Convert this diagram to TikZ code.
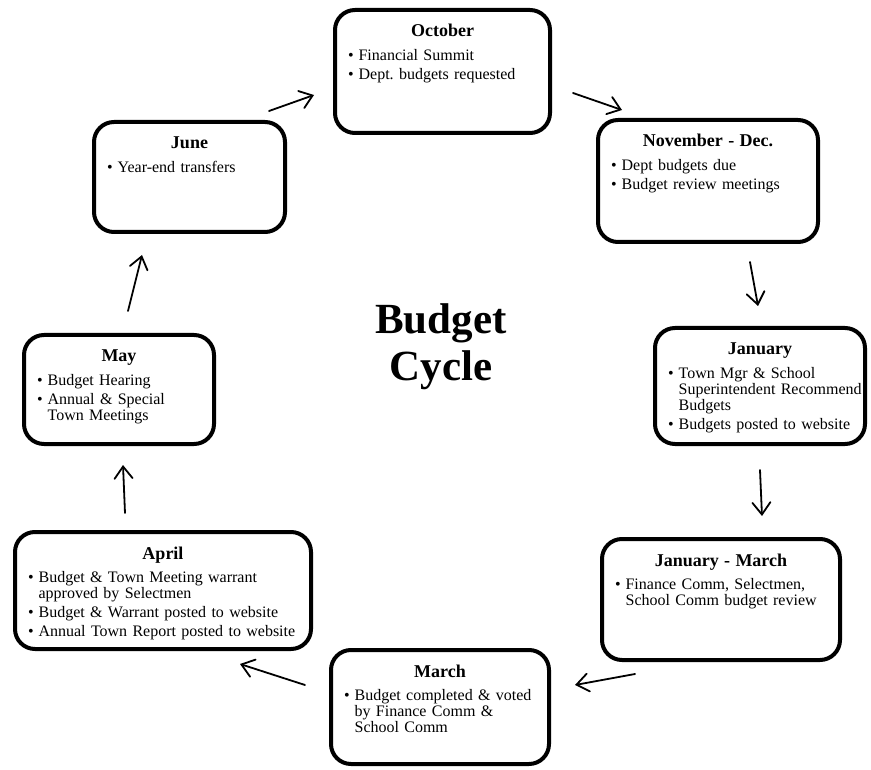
\documentclass[tikz,border=0pt]{standalone}
\usepackage{fontspec}
\setmainfont{Liberation Serif}
\usepackage{tikz}
\usetikzlibrary{arrows.meta}
\frenchspacing
\newcommand{\monthname}[1]{\makebox[\linewidth]{\fontsize{18}{20}\selectfont\bfseries #1}\\[7.5pt]}
\newenvironment{itemrows}{\begin{tabular}[t]{@{}l@{\hspace{5pt}}l@{}}}{\end{tabular}}
\tikzset{
  stage/.style={draw,line width=4pt,rounded corners=20pt,align=left,
    inner xsep=13pt,inner ysep=9pt,text height=18pt,
    font=\fontsize{16}{16}\selectfont},
  flows/.style={
    every edge/.style={draw,line width=1.8pt,line cap=round,
      -{Straight Barb[length=12pt,width=18pt,line cap=round]}}
  },
  heading/.style={align=center,font=\fontsize{43}{47}\selectfont\bfseries}
}
\begin{document}
\begin{tikzpicture}[x=1pt,y=1pt]
  \useasboundingbox (0,0) rectangle (871,-770);

  \node[heading] (title) at (441,-347) {Budget\\Cycle};

  \node[stage,text width=189pt,text depth=87pt] (oct) at (442.5,-71.5) {\monthname{October}
    \begin{itemrows}\textbullet & Financial Summit\\[3pt] \textbullet & Dept. budgets requested\end{itemrows}};
  \node[stage,text width=194pt,text depth=86pt] (nov) at (708,-181) {\monthname{November - Dec.}
    \begin{itemrows}\textbullet & Dept budgets due\\[3pt] \textbullet & Budget review meetings\end{itemrows}};
  \node[stage,text width=184pt,text depth=80pt] (jan) at (760,-386) {\monthname{January}
    \begin{itemrows}\textbullet & Town Mgr \& School\\ & Superintendent Recommend\\ & Budgets\\[3pt]
      \textbullet & Budgets posted to website\end{itemrows}};
  \node[stage,text width=212pt,text depth=85pt] (janmar) at (721,-599.5) {\monthname{January - March}
    \begin{itemrows}\textbullet & Finance Comm, Selectmen,\\ & School Comm budget review\end{itemrows}};
  \node[stage,text width=192pt,text depth=78pt] (mar) at (440,-707) {\monthname{March}
    \begin{itemrows}\textbullet & Budget completed \& voted\\ & by Finance Comm \&\\ & School Comm\end{itemrows}};
  \node[stage,text width=270pt,text depth=81pt] (apr) at (163,-590.5) {\monthname{April}
    \begin{itemrows}\textbullet & Budget \& Town Meeting warrant\\ & approved by Selectmen\\[3pt]
      \textbullet & Budget \& Warrant posted to website\\[3pt]
      \textbullet & Annual Town Report posted to website\end{itemrows}};
  \node[stage,text width=164pt,text depth=73pt] (may) at (119,-389.5) {\monthname{May}
    \begin{itemrows}\textbullet & Budget Hearing\\[3pt] \textbullet & Annual \& Special\\ & Town Meetings\end{itemrows}};
  \node[stage,text width=165pt,text depth=74pt] (jun) at (189.5,-177) {\monthname{June}
    \begin{itemrows}\textbullet & Year-end transfers\end{itemrows}};

  \path[flows]
  ([shift={(-18pt,9pt)}]jun.north east) edge ([shift={(-19pt,-23.5pt)}]oct.west)
  ([shift={(21pt,-21.5pt)}]oct.east) edge ([shift={(26pt,8pt)}]nov.north west)
  ([shift={(42pt,-18pt)}]nov.south) edge ([shift={(-2pt,20pt)}]jan.north)
  ([shift={(0pt,-24pt)}]jan.south) edge ([shift={(41pt,21pt)}]janmar.north)
  ([shift={(35pt,-12pt)}]janmar.south west) edge ([shift={(24pt,22pt)}]mar.east)
  ([shift={(-24pt,22pt)}]mar.west) edge ([shift={(-73pt,-13pt)}]apr.south east)
  ([shift={(-38pt,17pt)}]apr.north) edge ([shift={(4pt,-19pt)}]may.south)
  ([shift={(9pt,22pt)}]may.north) edge ([shift={(-47.5pt,-21pt)}]jun.south)
  ;
\end{tikzpicture}
\end{document}
